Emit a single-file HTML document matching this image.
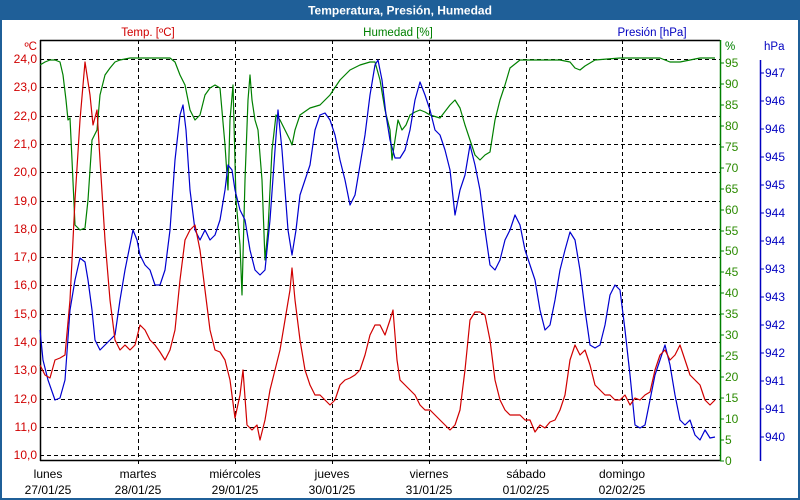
<!DOCTYPE html>
<html><head><meta charset="utf-8"><style>
html,body{margin:0;padding:0;background:#fff}
svg{display:block;font-family:"Liberation Sans","DejaVu Sans",sans-serif}
</style></head><body>
<svg width="800" height="500" viewBox="0 0 800 500" xmlns="http://www.w3.org/2000/svg">
<rect x="0" y="0" width="800" height="500" fill="#fff"/>
<rect x="1" y="1" width="798" height="498" fill="none" stroke="#1f5f98" stroke-width="2"/>
<rect x="0" y="0" width="800" height="20" fill="#1f5f98"/>
<text x="400" y="14.5" fill="#fff" font-size="12" font-weight="bold" text-anchor="middle">Temperatura, Presión, Humedad</text>
<g font-size="11.5">
<text x="148" y="36" fill="#d00000" text-anchor="middle">Temp. [ºC]</text>
<text x="398" y="36" fill="#008000" text-anchor="middle">Humedad [%]</text>
<text x="652" y="36" fill="#0000c0" text-anchor="middle">Presión [hPa]</text>
<text x="37" y="50" fill="#d00000" text-anchor="end">ºC</text>
<text x="725" y="50" fill="#008000">%</text>
<text x="764" y="50" fill="#0000c0">hPa</text>
</g>
<g stroke="#000" stroke-dasharray="4,3" stroke-width="1">
<line x1="40" y1="59.5" x2="720" y2="59.5"/><line x1="40" y1="87.5" x2="720" y2="87.5"/><line x1="40" y1="116.5" x2="720" y2="116.5"/><line x1="40" y1="144.5" x2="720" y2="144.5"/><line x1="40" y1="172.5" x2="720" y2="172.5"/><line x1="40" y1="201.5" x2="720" y2="201.5"/><line x1="40" y1="229.5" x2="720" y2="229.5"/><line x1="40" y1="257.5" x2="720" y2="257.5"/><line x1="40" y1="285.5" x2="720" y2="285.5"/><line x1="40" y1="314.5" x2="720" y2="314.5"/><line x1="40" y1="342.5" x2="720" y2="342.5"/><line x1="40" y1="370.5" x2="720" y2="370.5"/><line x1="40" y1="399.5" x2="720" y2="399.5"/><line x1="40" y1="427.5" x2="720" y2="427.5"/><line x1="40" y1="455.5" x2="720" y2="455.5"/>
<line x1="138.5" y1="40" x2="138.5" y2="466"/><line x1="235.5" y1="40" x2="235.5" y2="466"/><line x1="332.5" y1="40" x2="332.5" y2="466"/><line x1="429.5" y1="40" x2="429.5" y2="466"/><line x1="526.5" y1="40" x2="526.5" y2="466"/><line x1="622.5" y1="40" x2="622.5" y2="466"/>
</g>
<g stroke="#000" stroke-width="1.5" fill="none">
<line x1="40" y1="40.5" x2="720" y2="40.5"/><line x1="40.5" y1="40" x2="40.5" y2="461"/><line x1="40" y1="460.5" x2="720" y2="460.5"/>
</g>
<line x1="720.5" y1="40" x2="720.5" y2="461" stroke="#008000" stroke-width="1.5"/>
<line x1="760.5" y1="60" x2="760.5" y2="461" stroke="#0000c0" stroke-width="1.5"/>
<g font-size="12" fill="#d00000" text-anchor="end">
<text x="37" y="63">24,0</text><text x="37" y="91">23,0</text><text x="37" y="120">22,0</text><text x="37" y="148">21,0</text><text x="37" y="176">20,0</text><text x="37" y="205">19,0</text><text x="37" y="233">18,0</text><text x="37" y="261">17,0</text><text x="37" y="289">16,0</text><text x="37" y="318">15,0</text><text x="37" y="346">14,0</text><text x="37" y="374">13,0</text><text x="37" y="403">12,0</text><text x="37" y="431">11,0</text><text x="37" y="459">10,0</text>
</g>
<g font-size="12" fill="#000" text-anchor="middle">
<text x="48" y="478">lunes</text><text x="48" y="494">27/01/25</text>
<text x="138" y="478">martes</text><text x="138" y="494">28/01/25</text>
<text x="235" y="478">miércoles</text><text x="235" y="494">29/01/25</text>
<text x="332" y="478">jueves</text><text x="332" y="494">30/01/25</text>
<text x="429" y="478">viernes</text><text x="429" y="494">31/01/25</text>
<text x="526" y="478">sábado</text><text x="526" y="494">01/02/25</text>
<text x="622" y="478">domingo</text><text x="622" y="494">02/02/25</text>
</g>
<g font-size="12" fill="#2a8a00">
<text x="725" y="465">0</text><text x="725" y="444">5</text><text x="725" y="423">10</text><text x="725" y="402">15</text><text x="725" y="381">20</text><text x="725" y="360">25</text><text x="725" y="339">30</text><text x="725" y="318">35</text><text x="725" y="297">40</text><text x="725" y="276">45</text><text x="725" y="255">50</text><text x="725" y="235">55</text><text x="725" y="214">60</text><text x="725" y="193">65</text><text x="725" y="172">70</text><text x="725" y="151">75</text><text x="725" y="130">80</text><text x="725" y="109">85</text><text x="725" y="88">90</text><text x="725" y="67">95</text>
</g>
<g stroke="#008000"><line x1="720" y1="461" x2="724" y2="461"/><line x1="720" y1="440" x2="724" y2="440"/><line x1="720" y1="419" x2="724" y2="419"/><line x1="720" y1="398" x2="724" y2="398"/><line x1="720" y1="377" x2="724" y2="377"/><line x1="720" y1="356" x2="724" y2="356"/><line x1="720" y1="335" x2="724" y2="335"/><line x1="720" y1="314" x2="724" y2="314"/><line x1="720" y1="293" x2="724" y2="293"/><line x1="720" y1="272" x2="724" y2="272"/><line x1="720" y1="251" x2="724" y2="251"/><line x1="720" y1="231" x2="724" y2="231"/><line x1="720" y1="210" x2="724" y2="210"/><line x1="720" y1="189" x2="724" y2="189"/><line x1="720" y1="168" x2="724" y2="168"/><line x1="720" y1="147" x2="724" y2="147"/><line x1="720" y1="126" x2="724" y2="126"/><line x1="720" y1="105" x2="724" y2="105"/><line x1="720" y1="84" x2="724" y2="84"/><line x1="720" y1="63" x2="724" y2="63"/></g>
<g font-size="12" fill="#0000c0">
<text x="765" y="77">947</text><text x="765" y="105">946</text><text x="765" y="133">946</text><text x="765" y="161">945</text><text x="765" y="189">945</text><text x="765" y="217">944</text><text x="765" y="245">944</text><text x="765" y="273">943</text><text x="765" y="301">943</text><text x="765" y="329">942</text><text x="765" y="357">942</text><text x="765" y="385">941</text><text x="765" y="413">941</text><text x="765" y="441">940</text>
</g>
<g stroke="#0000c0"><line x1="760" y1="73" x2="764" y2="73"/><line x1="760" y1="101" x2="764" y2="101"/><line x1="760" y1="129" x2="764" y2="129"/><line x1="760" y1="157" x2="764" y2="157"/><line x1="760" y1="185" x2="764" y2="185"/><line x1="760" y1="213" x2="764" y2="213"/><line x1="760" y1="241" x2="764" y2="241"/><line x1="760" y1="269" x2="764" y2="269"/><line x1="760" y1="297" x2="764" y2="297"/><line x1="760" y1="325" x2="764" y2="325"/><line x1="760" y1="353" x2="764" y2="353"/><line x1="760" y1="381" x2="764" y2="381"/><line x1="760" y1="409" x2="764" y2="409"/><line x1="760" y1="437" x2="764" y2="437"/></g>
<g fill="none" stroke-width="1.2" stroke-linejoin="round">
<polyline stroke="#008000" points="40,65 45,62 50,60 55,60 60,62 63,75 66,100 68,120 70,118 72,160 75,225 80,230 85,228 88,200 92,140 97,130 100,95 105,75 110,68 115,62 120,60 130,58 150,58 170,58 175,62 180,75 185,85 190,110 195,120 200,115 205,95 210,88 215,85 220,88 225,145 228,190 230,120 233,85 236,200 240,245 242,295 245,180 248,100 250,75 252,100 255,120 258,130 262,180 265,260 268,230 272,150 276,115 280,120 285,130 290,140 292,145 295,130 300,115 310,108 320,105 330,95 340,80 350,70 360,65 370,62 375,62 380,80 385,110 390,130 392,160 395,140 398,120 402,130 406,125 410,115 415,112 420,110 425,112 430,115 440,118 450,105 455,100 460,108 465,125 470,140 475,155 480,160 485,155 490,152 495,120 500,100 505,85 510,68 520,60 540,60 560,60 570,62 575,68 580,70 585,66 595,60 620,58 640,58 660,58 665,60 670,62 680,62 690,60 700,58 715,58"/>
<polyline stroke="#0000d0" points="40,330 43,360 48,380 55,400 60,398 65,380 70,310 75,280 80,258 85,262 88,280 92,310 95,340 100,350 105,345 110,340 115,335 120,300 125,270 130,245 133,230 137,240 140,255 145,265 150,270 155,285 160,285 165,270 170,230 175,160 180,115 183,105 186,130 190,190 195,230 200,240 205,230 210,240 215,235 220,220 225,190 228,165 232,170 235,190 240,210 245,220 250,250 255,270 260,275 265,270 270,220 275,150 278,110 282,150 288,230 292,255 296,230 300,195 305,180 310,165 315,130 320,115 325,113 330,120 335,135 340,160 345,180 350,205 355,195 360,165 365,135 370,95 375,65 378,60 382,80 386,115 390,140 395,158 400,158 405,150 410,130 415,100 420,82 425,95 430,110 435,130 440,135 445,150 450,170 455,215 460,190 465,175 470,145 475,165 480,190 485,230 490,265 495,270 500,260 505,240 510,230 515,215 520,225 525,250 530,265 535,280 540,310 545,330 550,325 555,300 560,270 565,250 570,232 575,240 580,270 585,310 590,345 595,348 600,345 605,325 610,295 615,285 620,290 625,330 630,375 635,425 640,428 645,425 650,400 655,375 660,360 665,345 670,365 675,395 680,420 685,425 690,420 695,435 700,440 705,430 710,438 715,437"/>
<polyline stroke="#d00000" points="40,365 45,375 50,378 55,360 60,358 65,355 70,300 75,200 80,120 85,62 90,95 93,125 97,110 100,160 105,240 110,300 115,340 120,350 125,345 130,350 135,345 140,325 145,330 150,340 155,345 160,352 165,360 170,350 175,330 180,280 185,240 190,230 195,225 200,250 205,290 210,330 215,350 220,352 225,360 230,380 235,418 240,395 243,370 247,425 252,430 257,425 260,440 265,420 270,390 275,370 280,350 285,320 290,290 292,268 295,300 300,340 305,370 310,385 315,395 320,395 325,400 330,405 335,400 340,385 345,380 350,378 355,375 360,370 365,355 370,335 375,325 380,325 385,335 390,320 393,310 397,360 400,380 405,385 410,390 415,395 420,405 425,410 430,410 435,415 440,420 445,425 450,430 455,425 460,410 465,370 470,320 475,312 480,312 485,315 490,340 495,380 500,400 505,410 510,415 520,415 525,420 530,420 535,432 540,425 545,428 550,422 555,420 560,410 565,395 570,360 575,345 580,355 585,350 590,365 595,385 600,390 605,395 610,395 615,400 620,400 625,395 630,405 635,398 640,400 645,395 650,392 655,370 660,355 665,350 670,360 675,355 680,345 685,360 690,375 695,380 700,385 705,400 710,405 715,400"/>
</g>
</svg>
</body></html>
